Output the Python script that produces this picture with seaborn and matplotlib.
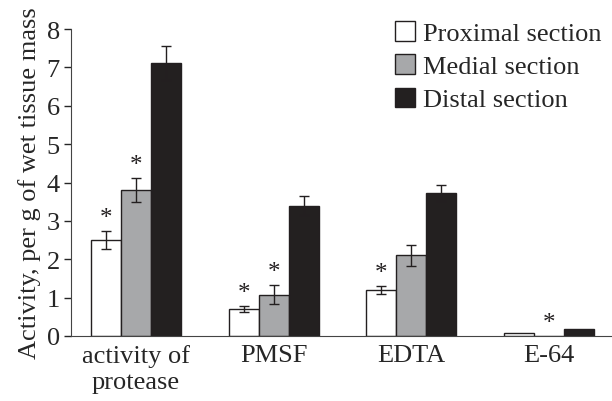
import matplotlib
matplotlib.use("Agg")
import matplotlib.pyplot as plt
import seaborn as sns
import pandas as pd
import numpy as np

categories = ["activity of\nprotease", "PMSF", "EDTA", "E-64"]
sections = ["Proximal section", "Medial section", "Distal section"]
proximal = [2.50, 0.70, 1.20, 0.08]
medial = [3.80, 1.07, 2.10, 0.0]
distal = [7.12, 3.40, 3.73, 0.17]
proximal_err = [0.23, 0.07, 0.10, 0.0]
medial_err = [0.32, 0.25, 0.27, 0.0]
distal_err = [0.45, 0.25, 0.20, 0.0]
# asterisk marks: (category index, section index)
stars = [(0, 0), (0, 1), (1, 0), (1, 1), (2, 0), (3, 1)]

sns.set_style("ticks")
plt.rcParams["font.family"] = ["Liberation Serif", "DejaVu Serif"]

rows = []
for s, vals, errs in zip(sections, [proximal, medial, distal],
                         [proximal_err, medial_err, distal_err]):
    for c, v, e in zip(categories, vals, errs):
        rows.append({"cat": c, "section": s, "value": v, "err": e})
df = pd.DataFrame(rows)

colors = ["#ffffff", "#a7a8aa", "#231f20"]
fig = plt.figure(figsize=(6.12, 4.02), dpi=100)
ax = fig.add_axes([0.116, 0.162, 0.884, 0.763])
sns.barplot(data=df, x="cat", y="value", hue="section", order=categories,
            hue_order=sections, palette=colors, width=0.655, errorbar=None,
            edgecolor="#231f20", linewidth=1.0, ax=ax, legend=True)

fs = 19
bar_containers = list(ax.containers)[:3]
for si, cont in enumerate(bar_containers):
    vals = [proximal, medial, distal][si]
    errs = [proximal_err, medial_err, distal_err][si]
    for ci, bar in enumerate(cont):
        xc = bar.get_x() + bar.get_width() / 2
        if errs[ci] > 0:
            ax.errorbar(xc, vals[ci], yerr=errs[ci], color="#231f20",
                        capsize=3.6, elinewidth=1.0, capthick=1.0, fmt="none")
        if (ci, si) in stars:
            ax.text(xc, vals[ci] + errs[ci] + 0.05, "*", ha="center", va="bottom",
                    fontsize=fs - 1, color="#231f20")

ax.set_ylim(0, 8)
ax.set_xlim(-0.472, 3.457)
ax.set_yticks(range(0, 9))
ax.set_xlabel("")
ax.set_ylabel("Activity, per g of wet tissue mass", fontsize=fs, labelpad=4)
ax.tick_params(axis="y", labelsize=fs, length=5, width=1, direction="out", pad=3)
ax.tick_params(axis="x", labelsize=fs, length=0, pad=6)
sns.despine(ax=ax)
ax.spines["left"].set_color("#444444")
ax.spines["bottom"].set_color("#444444")

handles, labels = ax.get_legend_handles_labels()
ax.legend(handles, labels, loc="upper right", bbox_to_anchor=(1.0, 1.06),
          frameon=False, fontsize=fs, handlelength=0.75, handleheight=0.75,
          handletextpad=0.3, labelspacing=0.35, borderaxespad=0)

fig.savefig("out.png", dpi=100)
